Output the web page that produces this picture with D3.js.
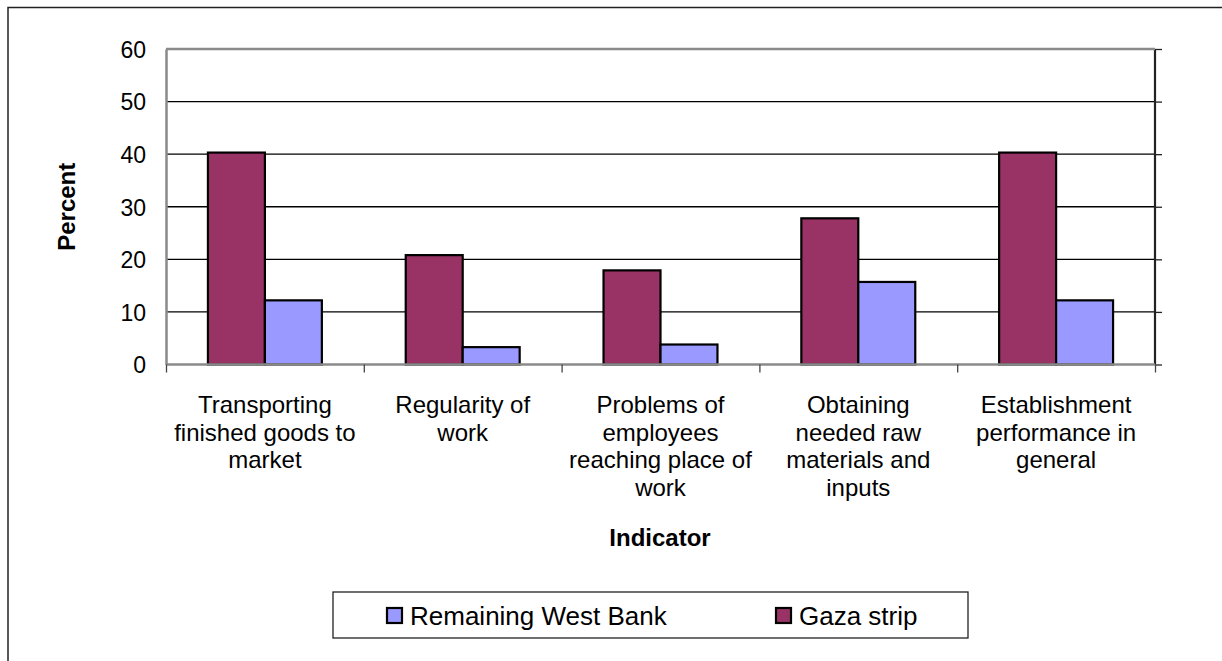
<!DOCTYPE html>
<html><head><meta charset="utf-8">
<script src="https://cdn.jsdelivr.net/npm/d3@7"></script>
<style>html,body{margin:0;padding:0;background:#fff;overflow:hidden}</style>
</head><body>
<svg id="c" width="1222" height="661"></svg>
<script>
const categories = [
  ["Transporting","finished goods to","market"],
  ["Regularity of","work"],
  ["Problems of","employees","reaching place of","work"],
  ["Obtaining","needed raw","materials and","inputs"],
  ["Establishment","performance in","general"]
];
const seriesNames = ["Gaza strip","Remaining West Bank"];
const gaza = [40.3, 20.8, 17.9, 27.8, 40.3];
const westBank = [12.2, 3.3, 3.8, 15.7, 12.2];
const yTicks = [0,10,20,30,40,50,60];
const colors = {"Gaza strip":"#993366","Remaining West Bank":"#9999FF"};

const svg = d3.select("#c");
const font = "Arial, 'Liberation Sans', sans-serif";
const L=166, R=1155, T=49, B=364.5;

// outer frame
svg.append("rect").attr("x",8).attr("y",7.5).attr("width",1300).attr("height",700)
  .attr("fill","none").attr("stroke","#222").attr("stroke-width",1.5);

const x0 = d3.scaleBand().domain(d3.range(categories.length)).range([L,R]).paddingInner(0).paddingOuter(0);
const groupW = x0.bandwidth()*0.576;
const x1 = d3.scaleBand().domain(seriesNames).range([0,groupW]);
const y = d3.scaleLinear().domain([0,60]).range([B,T]);

// gridlines
svg.append("g").selectAll("line").data(yTicks.filter(d=>d>0&&d<60)).join("line")
  .attr("x1",L).attr("x2",R).attr("y1",d=>y(d)).attr("y2",d=>y(d))
  .attr("stroke","#000").attr("stroke-width",1.3);

// right axis with outward ticks
const rightAxis = d3.axisRight(y).tickValues(yTicks).tickSize(7).tickFormat("");
const ra = svg.append("g").attr("transform",`translate(${R},0)`).call(rightAxis);
ra.select(".domain").attr("stroke","#222").attr("stroke-width",2.2).attr("d",`M0,${T}V${B}`);
ra.selectAll(".tick line").attr("stroke","#222").attr("stroke-width",1.3);

// top border (gray)
svg.append("line").attr("x1",L).attr("x2",R).attr("y1",T).attr("y2",T)
  .attr("stroke","#8a8a8a").attr("stroke-width",2.5);

// left axis
const leftAxis = d3.axisLeft(y).tickValues(yTicks).tickSize(0).tickPadding(20);
const la = svg.append("g").attr("transform",`translate(${L},0)`).call(leftAxis);
la.select(".domain").attr("stroke","#8a8a8a").attr("stroke-width",2.5);
la.selectAll(".tick text").attr("font-family",font).attr("font-size",23).attr("fill","#000")
  .attr("dy","0.36em");

// bars
const data = categories.map((c,i)=>({i, vals:[{k:"Gaza strip",v:gaza[i]},{k:"Remaining West Bank",v:westBank[i]}]}));
const g = svg.append("g").selectAll("g").data(data).join("g")
  .attr("transform",d=>`translate(${x0(d.i)+(x0.bandwidth()-groupW)/2},0)`);
g.selectAll("rect").data(d=>d.vals).join("rect")
  .attr("x",d=>x1(d.k)).attr("width",x1.bandwidth())
  .attr("y",d=>y(d.v)).attr("height",d=>B-y(d.v))
  .attr("fill",d=>colors[d.k]).attr("stroke","#000").attr("stroke-width",2.2);

// bottom axis
const bx = d3.scaleLinear().domain([0,categories.length]).range([L,R]);
const bottomAxis = d3.axisBottom(bx).tickValues(d3.range(categories.length+1)).tickSize(8).tickFormat("");
const ba = svg.append("g").attr("transform",`translate(0,${B})`).call(bottomAxis);
ba.select(".domain").attr("stroke","#8a8a8a").attr("stroke-width",2.5).attr("d",`M${L},0H${R}`);
ba.selectAll(".tick line").attr("stroke","#444").attr("stroke-width",1.3);

// category labels
const lab = svg.append("g").selectAll("text").data(categories).join("text")
  .attr("font-family",font).attr("font-size",24).attr("fill","#000").attr("text-anchor","middle");
lab.each(function(lines,i){
  const t=d3.select(this);
  lines.forEach((ln,j)=>{
    t.append("tspan").attr("x",x0(i)+x0.bandwidth()/2).attr("y",413+j*27.5).text(ln);
  });
});

// axis titles
svg.append("text").attr("x",660).attr("y",546).attr("text-anchor","middle")
  .attr("font-family",font).attr("font-size",24).attr("font-weight","bold").text("Indicator");
svg.append("text").attr("transform",`translate(75,${(T+B)/2}) rotate(-90)`).attr("text-anchor","middle")
  .attr("font-family",font).attr("font-size",24).attr("font-weight","bold").text("Percent");

// legend
const lg = svg.append("g");
lg.append("rect").attr("x",333).attr("y",592).attr("width",635).attr("height",46)
  .attr("fill","#fff").attr("stroke","#222").attr("stroke-width",1.3);
const legendItems = [{k:"Remaining West Bank",x:386},{k:"Gaza strip",x:775}];
legendItems.forEach(it=>{
  lg.append("rect").attr("x",it.x+1).attr("y",608).attr("width",15).attr("height",15)
    .attr("fill",colors[it.k]).attr("stroke","#000").attr("stroke-width",2.2);
  lg.append("text").attr("x",it.x+24).attr("y",624.5).attr("font-family",font).attr("font-size",26)
    .attr("fill","#000").text(it.k);
});
</script>
</body></html>
